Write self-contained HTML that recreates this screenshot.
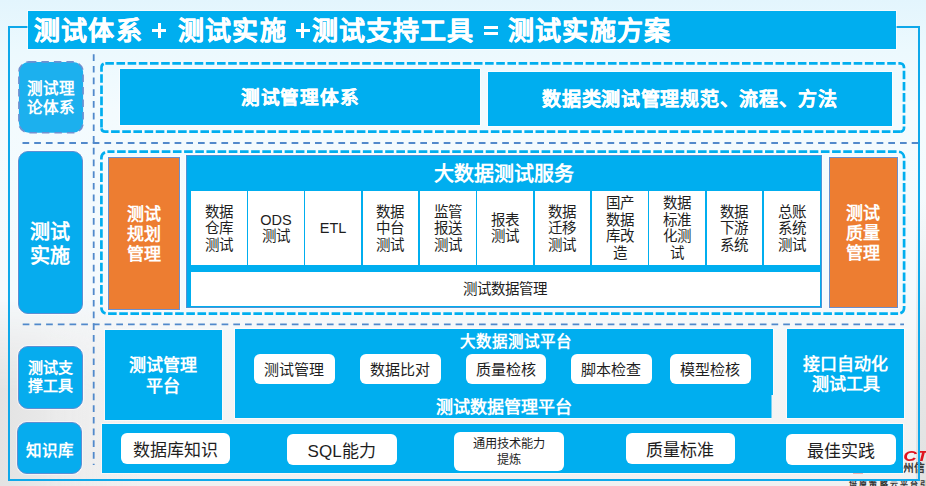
<!DOCTYPE html>
<html lang="zh-CN"><head><meta charset="utf-8">
<style>
*{margin:0;padding:0;box-sizing:border-box}
html,body{width:926px;height:486px;overflow:hidden}
body{position:relative;font-family:"Liberation Sans",sans-serif;
background:linear-gradient(180deg,#e3f5fd 0px,#ecf9fe 50px,#f3fbfe 110px,#f5fafd 290px,#f5f6f7 350px,#f3f3f3 420px,#f1f1f1 486px)}
.a{position:absolute}
.blue{background:#00aeef;box-shadow:0 0 0 1px rgba(255,255,255,.55)}
.c{display:flex;align-items:center;justify-content:center;text-align:center}
.w{color:#fff;font-weight:bold;}
.tt{top:11.8px;height:38px;line-height:38px;font-size:26px;letter-spacing:1.2px;white-space:nowrap;-webkit-text-stroke:0.3px #fff;}
.lbl{position:absolute;background:#06acee;border:1.2px solid #5f8ed2;border-radius:10px;box-shadow:0 0 0 1px rgba(255,255,255,.5);color:#fff;font-weight:bold;display:flex;align-items:center;justify-content:center;text-align:center}
.cell{position:absolute;top:191.3px;height:73.4px;background:#fff;color:#1e1e1e;font-size:14.5px;line-height:16.5px;padding-top:1px;display:flex;align-items:center;justify-content:center;text-align:center}
.pill{position:absolute;background:#fff;border-radius:6px;color:#1e1e1e;display:flex;align-items:center;justify-content:center;text-align:center;white-space:nowrap}
.p1{top:354.2px;height:29.5px;width:80.5px;font-size:15px;padding-bottom:1.4px}
.p2{font-size:17px}
.wb{position:absolute;background:#fff}
</style></head><body>

<!-- outer connector rectangle -->
<div class="a" style="left:0;top:300px;width:140px;height:186px;background:linear-gradient(90deg,#e3e3e3 0,#e8e8e8 40px,rgba(236,236,236,0.6) 95px,rgba(240,240,240,0) 140px);-webkit-mask-image:linear-gradient(180deg,transparent 0,#000 90px)"></div>
<div class="a" style="left:916px;top:200px;width:10px;height:286px;background:linear-gradient(180deg,rgba(230,230,230,0) 0,#e7e7e7 150px,#e2e2e2 286px)"></div>
<!-- logo (partially hidden) -->
<div class="a" style="left:890px;top:447.5px;font-family:'Liberation Sans',sans-serif;font-style:italic;font-weight:bold;font-size:14.5px;line-height:16px;color:#e0141f;letter-spacing:-0.3px;transform:scaleX(1.3);transform-origin:0 0">DCT</div>
<div class="a" style="left:903px;top:461.5px;font-size:10.8px;line-height:13px;color:#3a3a3a;font-weight:bold;white-space:nowrap">州信</div>
<div class="a" style="left:853px;top:472px;width:10px;height:1.8px;background:#d9534f"></div>
<div class="a" style="left:849px;top:479.5px;font-size:8px;line-height:10px;color:#333;font-weight:bold;white-space:nowrap;letter-spacing:2.2px">培原策略云平台引</div>
<div class="a" style="left:8px;top:26px;width:912px;height:455px;border:2px solid #0ea8ea"></div>

<!-- title -->
<div class="a blue" style="left:28px;top:11px;width:868px;height:38px"></div>
<div class="a w tt" style="left:34px">测试体系</div>
<div class="wb" style="left:152.3px;top:29px;width:14.2px;height:3px"></div><div class="wb" style="left:158px;top:23.1px;width:3px;height:14.5px"></div>
<div class="a w tt" style="left:178px">测试实施</div>
<div class="wb" style="left:295.6px;top:29px;width:14.2px;height:3px"></div><div class="wb" style="left:301.3px;top:23.1px;width:3px;height:14.5px"></div>
<div class="a w tt" style="left:311.5px">测试支持工具</div>
<div class="wb" style="left:483.7px;top:26px;width:14px;height:3px"></div><div class="wb" style="left:483.7px;top:32px;width:14px;height:3px"></div>
<div class="a w tt" style="left:508px">测试实施方案</div>

<!-- dashed separators -->
<svg class="a" style="left:0;top:0" width="926" height="486">
  <line x1="93.7" y1="54.2" x2="93.7" y2="465" stroke="#5189cb" stroke-width="1.8" stroke-dasharray="6.7 5"/>
  <line x1="22.5" y1="143" x2="919" y2="143" stroke="#5189cb" stroke-width="1.8" stroke-dasharray="6.7 5"/>
  <line x1="22.7" y1="324.4" x2="904" y2="324.4" stroke="#5189cb" stroke-width="1.8" stroke-dasharray="6.7 5"/>
  <path d="M105.3,63.4 H900.2 A3.8,3.8 0 0 1 904,67.2 V127.9 A3.8,3.8 0 0 1 900.2,131.7" fill="none" stroke="#00aeef" stroke-width="2.7" stroke-dasharray="8.6 2.57" stroke-dashoffset="0"/>
  <path d="M900.2,131.7 H105.3 A3.8,3.8 0 0 1 101.5,127.9" fill="none" stroke="#00aeef" stroke-width="2.7" stroke-dasharray="8.6 2.57" stroke-dashoffset="1.37"/>
  <path d="M101.5,127.9 V67.2 A3.8,3.8 0 0 1 105.3,63.4" fill="none" stroke="#00aeef" stroke-width="2.7" stroke-dasharray="8.6 2.57" stroke-dashoffset="10.77"/>
  <path d="M107.4,151.7 H898.1 A6,6 0 0 1 904.1,157.7 V307.7 A6,6 0 0 1 898.1,313.7" fill="none" stroke="#00aeef" stroke-width="2.7" stroke-dasharray="8.6 2.572" stroke-dashoffset="1.5"/>
  <path d="M898.1,313.7 H107.4 A6,6 0 0 1 101.4,307.7" fill="none" stroke="#00aeef" stroke-width="2.7" stroke-dasharray="8.6 2.576" stroke-dashoffset="0.9"/>
  <path d="M101.4,307.7 V157.7 A6,6 0 0 1 107.4,151.7" fill="none" stroke="#00aeef" stroke-width="2.7" stroke-dasharray="8.6 2.57" stroke-dashoffset="8.27"/>
</svg>

<!-- left labels -->
<svg class="a" style="left:17.5px;top:60.8px" width="66" height="73"><rect x="0.9" y="0.9" width="64.2" height="70.9" rx="10" fill="#1cb0ee" stroke="#7090d0" stroke-width="1.6" stroke-dasharray="7.5 5"/></svg>
<div class="a w c" style="left:18px;top:61px;width:65px;height:71px;font-size:15.5px;line-height:19px;padding-top:2px">测试理<br>论体系</div>
<div class="lbl" style="left:17.8px;top:151px;width:65.5px;height:163px;font-size:20px;line-height:24px;padding-top:22px;padding-right:2px">测试<br>实施</div>
<div class="lbl" style="left:17.9px;top:345.5px;width:65px;height:63px;font-size:15px;line-height:18px">测试支<br>撑工具</div>
<div class="lbl" style="left:16.7px;top:422.4px;width:65px;height:51.5px;font-size:15.5px;padding-top:2px;padding-left:2.5px">知识库</div>

<!-- top section -->
<div class="a blue c w" style="left:120.4px;top:69.3px;width:359.6px;height:55.4px;font-size:18.6px;letter-spacing:0.8px;padding-bottom:3px;-webkit-text-stroke:0.25px #fff">测试管理体系</div>
<div class="a blue c w" style="left:487.7px;top:72px;width:404.6px;height:53.6px;font-size:19px;letter-spacing:0.7px;padding-bottom:3px;-webkit-text-stroke:0.25px #fff">数据类测试管理规范、流程、方法</div>

<!-- middle section -->
<div class="a c w" style="left:108.2px;top:157.4px;width:71.4px;height:153px;background:#ed7d31;border:1.5px solid #6a8fce;box-shadow:0 0 0 1px rgba(255,255,255,.5);font-size:17px;line-height:20px;padding-top:2.6px">测试<br>规划<br>管理</div>
<div class="a c w" style="left:828.5px;top:156.5px;width:69.4px;height:151.7px;background:#ed7d31;border:1.5px solid #6a8fce;box-shadow:0 0 0 1px rgba(255,255,255,.5);font-size:17px;line-height:20px;padding-top:4px">测试<br>质量<br>管理</div>
<div class="a blue" style="left:186px;top:155px;width:636px;height:153.2px;border:1px solid #4f92d4"></div>
<div class="a w" style="left:185px;top:161.3px;width:637px;text-align:center;font-size:20px;line-height:26px">大数据测试服务</div>
<div class="cell" style="left:190.5px;width:56.3px">数据<br>仓库<br>测试</div>
<div class="cell" style="left:248.4px;width:55.3px">ODS<br>测试</div>
<div class="cell" style="left:305.3px;width:55.5px">ETL</div>
<div class="cell" style="left:362.7px;width:55.5px">数据<br>中台<br>测试</div>
<div class="cell" style="left:420px;width:55.5px">监管<br>报送<br>测试</div>
<div class="cell" style="left:477.4px;width:55.6px">报表<br>测试</div>
<div class="cell" style="left:534.8px;width:55.4px">数据<br>迁移<br>测试</div>
<div class="cell" style="left:592px;width:55.5px">国产<br>数据<br>库改<br>造</div>
<div class="cell" style="left:649.3px;width:55.5px">数据<br>标准<br>化测<br>试</div>
<div class="cell" style="left:706.6px;width:55.5px">数据<br>下游<br>系统</div>
<div class="cell" style="left:763.9px;width:56.1px">总账<br>系统<br>测试</div>
<div class="cell" style="left:190.5px;top:272.4px;width:629.5px;height:33.6px">测试数据管理</div>

<!-- bottom section -->
<div class="a blue c w" style="left:105.2px;top:329.5px;width:116.6px;height:90px;font-size:17px;line-height:21px;padding-top:2px">测试管理<br>平台</div>
<div class="a blue" style="left:235px;top:328.5px;width:537.8px;height:89.3px;clip-path:polygon(-2px -2px,539.8px -2px,539.8px 66.4px,536.5px 66.4px,536.5px 91.3px,-2px 91.3px)"></div>
<div class="a w" style="left:237px;top:332.3px;width:558px;text-align:center;font-size:15.5px;line-height:20px">大数据测试平台</div>
<div class="pill p1" style="left:254px">测试管理</div>
<div class="pill p1" style="left:360px">数据比对</div>
<div class="pill p1" style="left:465.8px">质量检核</div>
<div class="pill p1" style="left:571px">脚本检查</div>
<div class="pill p1" style="left:670.2px">模型检核</div>
<div class="a w" style="left:235px;top:397px;width:537px;text-align:center;font-size:17px;line-height:22px;">测试数据管理平台</div>
<div class="a blue c w" style="left:786.9px;top:329.2px;width:117.4px;height:88.8px;font-size:17px;line-height:20.5px;padding-top:3.4px">接口自动化<br>测试工具</div>

<div class="a blue" style="left:101.7px;top:424px;width:801.5px;height:48.6px"></div>
<div class="pill p2" style="left:121.4px;top:433.1px;width:109.1px;height:31.4px">数据库知识</div>
<div class="pill p2" style="left:286.5px;top:433.6px;width:110.2px;height:31.4px">SQL能力</div>
<div class="pill" style="left:454.2px;top:431.7px;width:109.4px;height:39px;font-size:12.2px;line-height:15.5px;padding-top:3px">通用技术能力<br>提炼</div>
<div class="pill p2" style="left:625.5px;top:432.8px;width:109.2px;height:31.2px">质量标准</div>
<div class="pill p2" style="left:786px;top:433.6px;width:110px;height:31.2px">最佳实践</div>

</body></html>
